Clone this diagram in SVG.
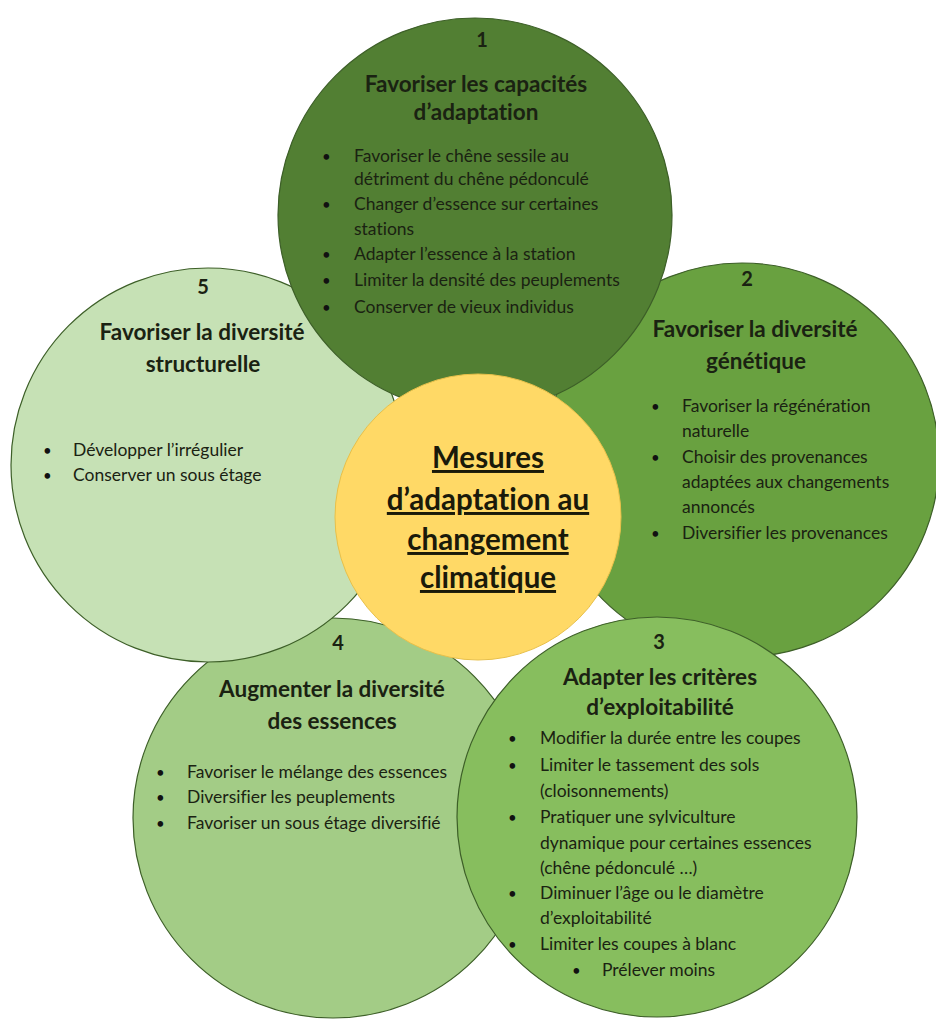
<svg xmlns="http://www.w3.org/2000/svg" width="936" height="1020" viewBox="0 0 936 1020">
<style>
.c{stroke:#3d5f28;stroke-width:1.2}
.t{font-family:Lato,"Open Sans","Liberation Sans",sans-serif;fill:#1a2212;font-variant-ligatures:none;font-feature-settings:"liga" 0,"dlig" 0}
.h{font-size:22.5px;font-weight:bold;text-anchor:middle}
.n{font-size:20px;font-weight:bold;text-anchor:middle}
.b{font-size:17.5px}
.d{font-size:15px;fill:#111}
.m{font-size:29.5px;font-weight:bold;text-anchor:middle;text-decoration:underline;fill:#1a1a0a}
</style>
<rect width="936" height="1020" fill="#ffffff"/>
<g id="node2">
<circle class="c" cx="742" cy="460" r="197" fill="#69a140"/>
<text class="t n" x="747" y="286">2</text>
<text class="t h" x="755" y="337">Favoriser la diversité</text>
<text class="t h" x="756" y="369">génétique</text>
<g class="t b">
<text class="d" x="651" y="412">•</text><text x="682" y="412">Favoriser la régénération</text>
<text x="682" y="437">naturelle</text>
<text class="d" x="651" y="463">•</text><text x="682" y="463">Choisir des provenances</text>
<text x="682" y="488">adaptées aux changements</text>
<text x="682" y="513">annoncés</text>
<text class="d" x="651" y="539">•</text><text x="682" y="539">Diversifier les provenances</text>
</g>
</g>
<g id="node4">
<circle class="c" cx="333" cy="818" r="200" fill="#a3cc86"/>
<text class="t n" x="338" y="650">4</text>
<text class="t h" x="332" y="697">Augmenter la diversité</text>
<text class="t h" x="332" y="729">des essences</text>
<g class="t b">
<text class="d" x="156" y="778">•</text><text x="187" y="778">Favoriser le mélange des essences</text>
<text class="d" x="156" y="803">•</text><text x="187" y="803">Diversifier les peuplements</text>
<text class="d" x="156" y="829">•</text><text x="187" y="829">Favoriser un sous étage diversifié</text>
</g>
</g>
<g id="node3">
<circle class="c" cx="657" cy="817" r="200" fill="#87be5e"/>
<text class="t n" x="659" y="649">3</text>
<text class="t h" x="660" y="685">Adapter les critères</text>
<text class="t h" x="660" y="715">d’exploitabilité</text>
<g class="t b">
<text class="d" x="508" y="744">•</text><text x="540" y="744">Modifier la durée entre les coupes</text>
<text class="d" x="508" y="771">•</text><text x="540" y="771">Limiter le tassement des sols</text>
<text x="540" y="797">(cloisonnements)</text>
<text class="d" x="508" y="823">•</text><text x="540" y="823">Pratiquer une sylviculture</text>
<text x="540" y="849">dynamique pour certaines essences</text>
<text x="540" y="874">(chêne pédonculé …)</text>
<text class="d" x="508" y="899">•</text><text x="540" y="899">Diminuer l’âge ou le diamètre</text>
<text x="540" y="924">d’exploitabilité</text>
<text class="d" x="508" y="950">•</text><text x="540" y="950">Limiter les coupes à blanc</text>
<text class="d" x="572" y="976">•</text><text x="602" y="976">Prélever moins</text>
</g>
</g>
<g id="node5">
<circle class="c" cx="208" cy="465" r="197" fill="#c6e1b5"/>
<text class="t n" x="203" y="294">5</text>
<text class="t h" x="202" y="340">Favoriser la diversité</text>
<text class="t h" x="203" y="372">structurelle</text>
<g class="t b">
<text class="d" x="43" y="456">•</text><text x="73" y="456">Développer l’irrégulier</text>
<text class="d" x="43" y="481">•</text><text x="73" y="481">Conserver un sous étage</text>
</g>
</g>
<g id="node1">
<circle class="c" cx="475" cy="215" r="197" fill="#527f33"/>
<text class="t n" x="482" y="47">1</text>
<text class="t h" x="476" y="92">Favoriser les capacités</text>
<text class="t h" x="476" y="120">d’adaptation</text>
<g class="t b">
<text class="d" x="322" y="162">•</text><text x="354" y="162">Favoriser le chêne sessile au</text>
<text x="354" y="185">détriment du chêne pédonculé</text>
<text class="d" x="322" y="210">•</text><text x="354" y="210">Changer d’essence sur certaines</text>
<text x="354" y="235">stations</text>
<text class="d" x="322" y="260">•</text><text x="354" y="260">Adapter l’essence à la station</text>
<text class="d" x="322" y="286">•</text><text x="354" y="286">Limiter la densité des peuplements</text>
<text class="d" x="322" y="313">•</text><text x="354" y="313">Conserver de vieux individus</text>
</g>
</g>
<g id="center">
<circle cx="478" cy="517" r="143" fill="#ffd966" stroke="#e8c04a" stroke-width="1"/>
<text class="t m" x="488" y="468">Mesures</text>
<text class="t m" x="488" y="510">d’adaptation au</text>
<text class="t m" x="488" y="550">changement</text>
<text class="t m" x="488" y="588">climatique</text>
</g>
<g id="connectors"></g>
</svg>
